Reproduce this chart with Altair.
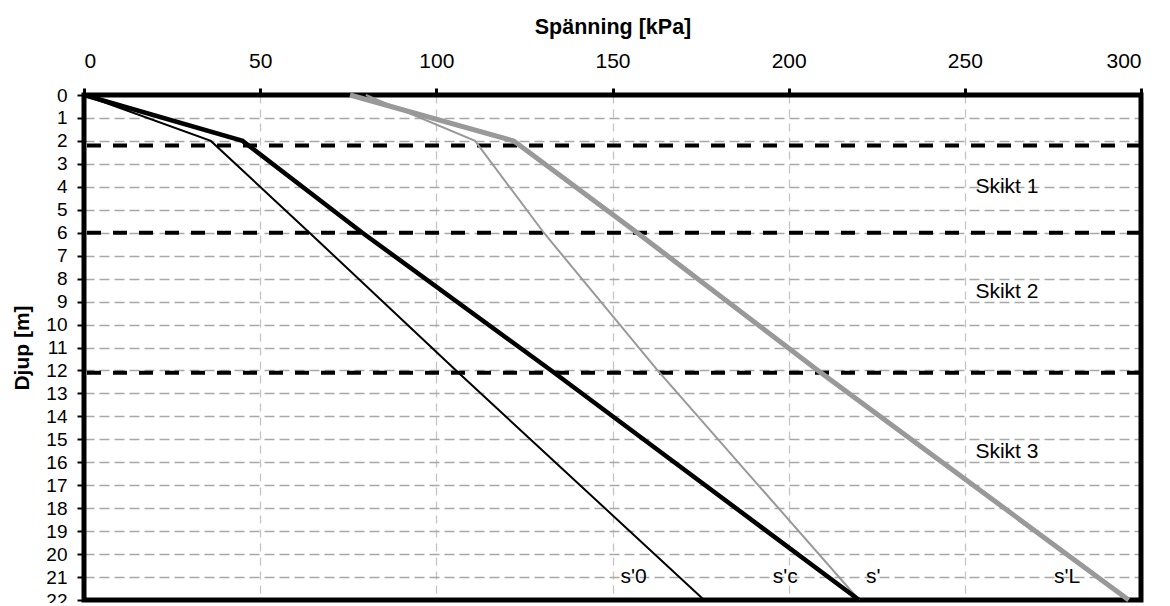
import altair as alt
import pandas as pd

# Depths (m) at which the curves are defined
depth = [0, 2, 6, 12, 22]
# Stress values (kPa)
s0_vals = [0, 36, 64, 105.6, 176]        # s'0  thin black
sc_vals = [0, 45, 79, 132.6, 220]        # s'c  thick black
s_vals = [80, 111, 130.5, 162.8, 220]    # s'   thin gray
sL_vals = [75.5, 122, 157, 208.3, 296.5] # s'L  thick gray

layer_bounds = [2.2, 6.0, 12.1]

curve_labels = ["s'0", "s'c", "s'", "s'L"]
curve_label_x = [156, 199, 224, 279]
curve_label_y = [21, 21, 21, 21]

layer_labels = ["Skikt 1", "Skikt 2", "Skikt 3"]
layer_label_x = [253, 253, 253]
layer_label_y = [4.0, 8.6, 15.55]

x_domain = [0, 300]
y_domain = [0, 22]
x_ticks = [0, 50, 100, 150, 200, 250, 300]
y_ticks = list(range(0, 23))

FONT = "Liberation Sans"

x_enc = alt.X(
    "kpa:Q",
    scale=alt.Scale(domain=x_domain, nice=False, zero=False),
    axis=alt.Axis(
        orient="top", values=x_ticks, title="Spänning [kPa]",
        labelFont=FONT, labelFontSize=21, labelColor="black", labelPadding=17,
        tickSize=7, tickWidth=3, tickColor="black", domain=False,
        grid=True, gridColor="#c4c4c4", gridDash=[8, 6], gridWidth=1.3,
        titleFont=FONT, titleFontSize=21.5, titleFontWeight="bold", titleColor="black",
        titleY=-68, titleBaseline="middle",
    ),
)
y_enc = alt.Y(
    "depth:Q",
    scale=alt.Scale(domain=y_domain, nice=False, zero=False, reverse=True),
    axis=alt.Axis(
        orient="left", values=y_ticks, title="Djup [m]",
        labelFont=FONT, labelFontSize=19, labelColor="black", labelPadding=10,
        tickSize=7, tickWidth=2, tickColor="black", domain=False,
        grid=True, gridColor="#a8a8a8", gridDash=[10, 5], gridWidth=1.3,
        titleFont=FONT, titleFontSize=21, titleFontWeight="bold", titleColor="black",
        titleX=-62, titleBaseline="middle",
    ),
)

rules = alt.Chart(pd.DataFrame({"depth": layer_bounds})).mark_rule(
    color="black", strokeWidth=4, strokeDash=[14, 12]
).encode(y=y_enc)

frame = alt.Chart(pd.DataFrame({
    "kpa": [x_domain[0]], "kpa2": [x_domain[1]],
    "depth": [y_domain[0]], "depth2": [y_domain[1]],
})).mark_rect(fillOpacity=0, stroke="black", strokeWidth=5).encode(
    x=x_enc, x2=alt.X2("kpa2:Q"), y=y_enc, y2=alt.Y2("depth2:Q")
)

def curve(vals, color, width):
    df = pd.DataFrame({"kpa": vals, "depth": depth})
    return alt.Chart(df).mark_line(color=color, strokeWidth=width, strokeJoin="miter").encode(
        x=x_enc, y=y_enc, order="depth:Q"
    )

lines = [
    curve(s_vals, "#999999", 2),
    curve(sL_vals, "#999999", 5),
    curve(s0_vals, "black", 2),
    curve(sc_vals, "black", 4.5),
]

clabels = alt.Chart(pd.DataFrame({"kpa": curve_label_x, "depth": curve_label_y, "t": curve_labels})).mark_text(
    font=FONT, fontSize=21, color="black", align="center", baseline="middle"
).encode(x=x_enc, y=y_enc, text="t:N")

llabels = alt.Chart(pd.DataFrame({"kpa": layer_label_x, "depth": layer_label_y, "t": layer_labels})).mark_text(
    font=FONT, fontSize=21, color="black", align="left", baseline="middle"
).encode(x=x_enc, y=y_enc, text="t:N")

chart = alt.layer(rules, frame, *lines, clabels, llabels).properties(
    width=1057, height=505,
    autosize=alt.AutoSizeParams(type="none"),
    padding={"left": 76, "top": 87, "right": 16, "bottom": 3},
    background="white",
).configure_view(stroke=None)

chart.save("out.html", embed_options={"renderer": "svg", "actions": False})
